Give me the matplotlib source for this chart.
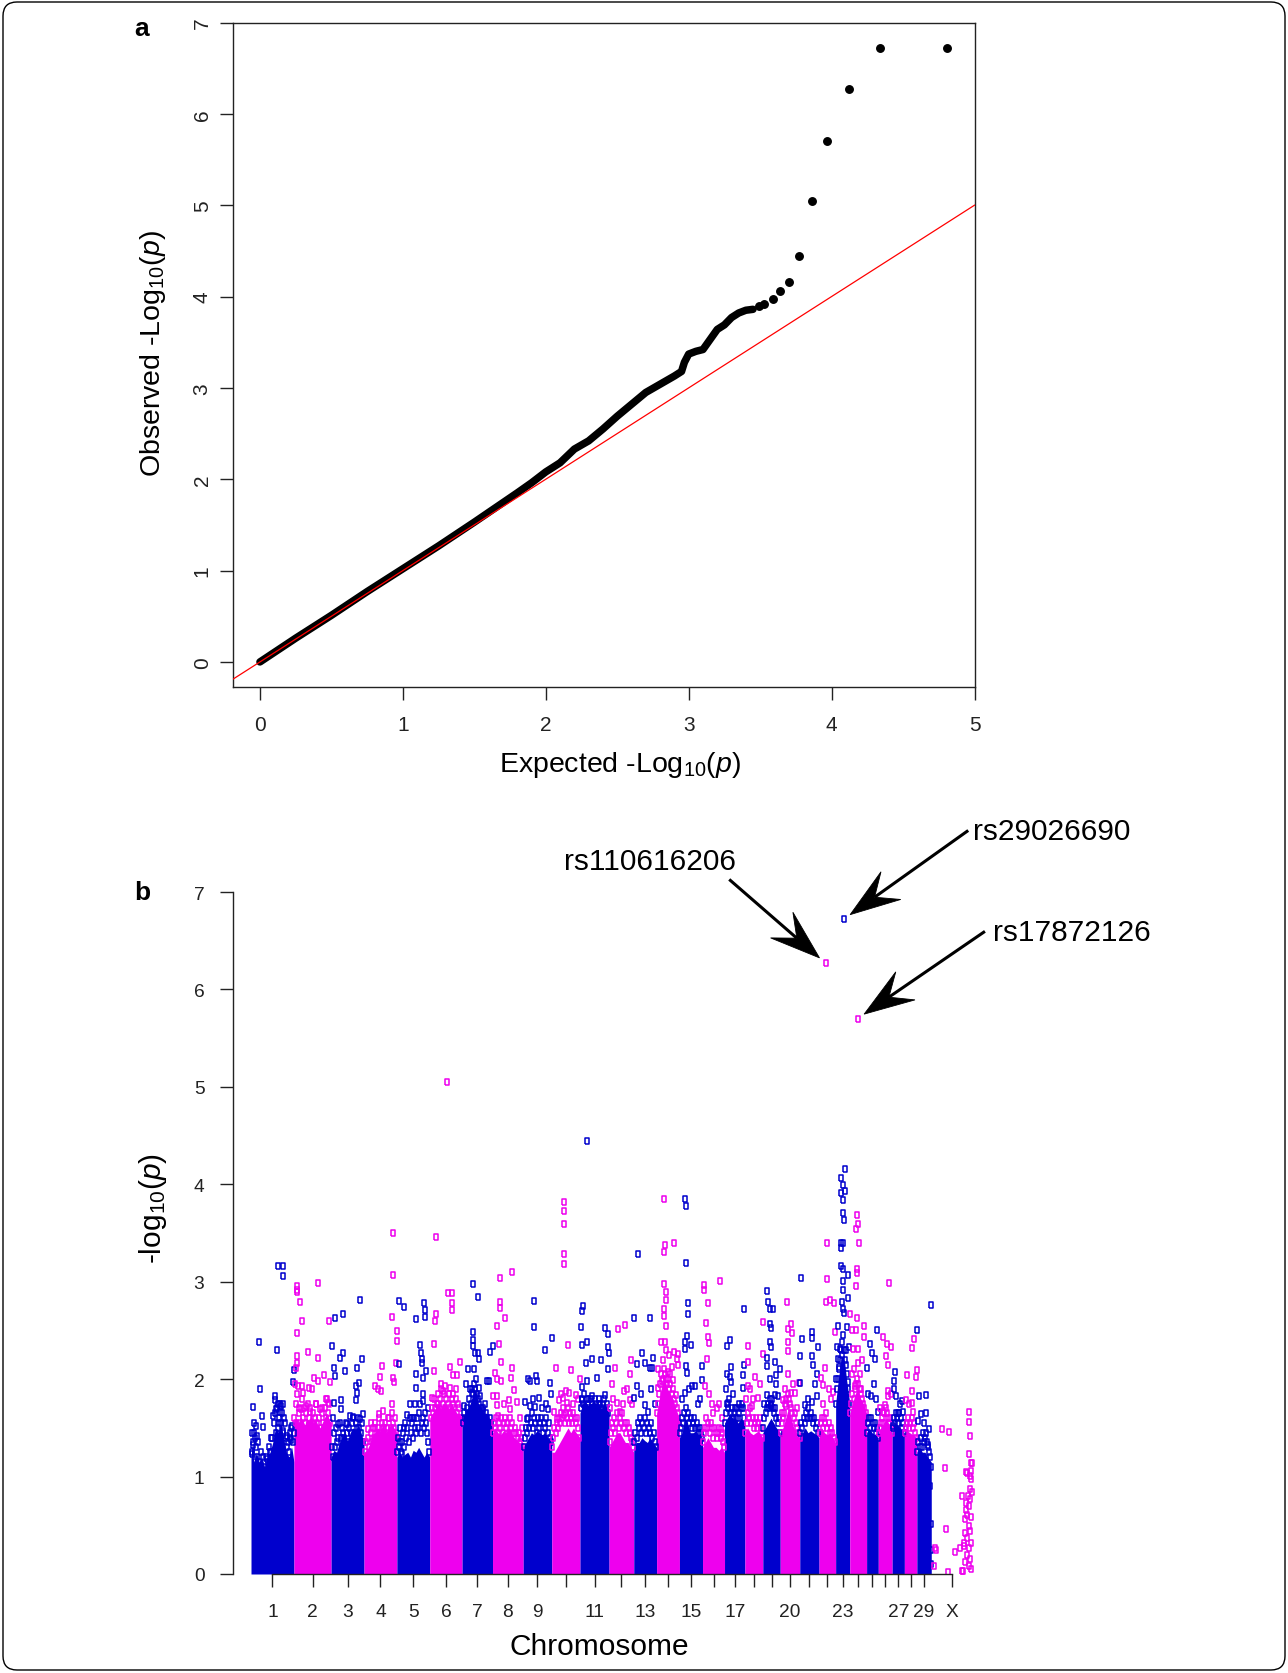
import numpy as np
import matplotlib
matplotlib.use("Agg")
import matplotlib.pyplot as plt
from matplotlib.patches import Polygon, FancyBboxPatch
from matplotlib.lines import Line2D
from matplotlib.transforms import IdentityTransform

plt.rcParams.update({
    "font.family": "Liberation Sans",
    "mathtext.fontset": "custom",
    "mathtext.rm": "Liberation Sans",
    "mathtext.it": "Liberation Sans:italic",
    "axes.linewidth": 1.0,
    "axes.edgecolor": "#222222",
    "xtick.major.width": 1.0,
    "ytick.major.width": 1.0,
    "xtick.color": "#222222",
    "ytick.color": "#222222",
})

W, H = 1288, 1674
BLUE = "#0000CD"
PINK = "#EE00EE"

# ---------------- QQ plot ----------------
qq_expected = [0.00, 0.25, 0.50, 0.75, 1.00, 1.25, 1.50, 1.80, 1.90, 2.00, 2.10, 2.20,
               2.30, 2.40, 2.50, 2.60, 2.70, 2.80, 2.90, 2.95, 2.97, 3.00, 3.05, 3.10,
               3.15, 3.20, 3.25, 3.30, 3.35, 3.40, 3.45]
qq_observed = [0.00, 0.26, 0.51, 0.77, 1.02, 1.27, 1.53, 1.85, 1.96, 2.08, 2.18, 2.33,
               2.42, 2.55, 2.69, 2.82, 2.95, 3.04, 3.13, 3.18, 3.28, 3.37, 3.40, 3.42,
               3.53, 3.64, 3.69, 3.77, 3.82, 3.85, 3.86]
qq_tail_expected = [3.49, 3.53, 3.59, 3.64, 3.70, 3.77, 3.86, 3.97, 4.12, 4.34, 4.81]
qq_tail_observed = [3.90, 3.92, 3.97, 4.06, 4.16, 4.44, 5.05, 5.70, 6.27, 6.72, 6.72]

# ---------------- Manhattan plot ----------------
chrom_labels = [str(i) for i in range(1, 30)] + ["X"]
chrom_len_mb = [158, 137, 121, 121, 121, 119, 112, 113, 105, 104, 107, 91, 84, 84, 85,
                81, 75, 66, 64, 72, 71, 61, 52, 62, 43, 51, 45, 46, 53, 150]
tick_text = ["1", "2", "3", "4", "5", "6", "7", "8", "9", "", "11", "", "13", "", "15",
             "", "17", "", "", "20", "", "", "23", "", "", "", "27", "", "29", "X"]

# top of the solid mass of overlapping SNPs, per chromosome (Mb, -log10 p)
band_mb = [
    [0, 5, 10, 20, 30, 40, 50, 60, 70, 80, 90, 100, 110, 120, 130, 140, 150, 158],
    [0, 8, 16, 24, 32, 40, 48, 56, 64, 72, 80, 88, 96, 104, 112, 120, 128, 137],
    [0, 10, 20, 30, 40, 50, 60, 70, 80, 90, 100, 110, 121],
    [0, 10, 20, 30, 40, 50, 60, 70, 80, 90, 100, 110, 121],
    [0, 10, 20, 30, 40, 50, 60, 70, 80, 90, 100, 110, 121],
    [0, 10, 20, 30, 40, 50, 60, 70, 80, 90, 100, 110, 119],
    [0, 10, 20, 30, 40, 50, 60, 70, 80, 90, 100, 112],
    [0, 10, 20, 30, 40, 50, 60, 70, 80, 90, 100, 113],
    [0, 10, 20, 30, 40, 50, 60, 70, 80, 90, 105],
    [0, 10, 20, 30, 40, 50, 60, 70, 80, 90, 104],
    [0, 10, 20, 30, 40, 50, 60, 70, 80, 90, 100, 107],
    [0, 10, 20, 30, 40, 50, 60, 70, 80, 91],
    [0, 10, 20, 30, 40, 50, 60, 70, 84],
    [0, 10, 20, 30, 40, 50, 60, 70, 84],
    [0, 10, 20, 30, 40, 50, 60, 70, 85],
    [0, 10, 20, 30, 40, 50, 60, 70, 81],
    [0, 10, 20, 30, 40, 50, 60, 75],
    [0, 10, 20, 30, 40, 50, 66],
    [0, 10, 20, 30, 40, 50, 64],
    [0, 10, 20, 30, 40, 50, 60, 72],
    [0, 10, 20, 30, 40, 50, 60, 71],
    [0, 10, 20, 30, 40, 50, 61],
    [0, 10, 20, 30, 40, 52],
    [0, 10, 20, 30, 40, 50, 62],
    [0, 10, 20, 30, 43],
    [0, 10, 20, 30, 40, 51],
    [0, 10, 20, 30, 45],
    [0, 10, 20, 30, 46],
    [0, 10, 20, 30, 40, 53],
    [],
]
band_logp = [
    [1.2, 1.35, 1.15, 1.25, 1.15, 1.2, 1.1, 1.2, 1.25, 1.35, 1.5, 1.45, 1.55, 1.4, 1.25, 1.2, 1.3, 1.15],
    [1.57, 1.6, 1.55, 1.62, 1.58, 1.53, 1.6, 1.57, 1.63, 1.55, 1.59, 1.53, 1.5, 1.55, 1.6, 1.65, 1.6, 1.55],
    [1.2, 1.27, 1.25, 1.35, 1.4, 1.45, 1.37, 1.45, 1.5, 1.47, 1.53, 1.45, 1.35],
    [1.25, 1.27, 1.33, 1.43, 1.45, 1.5, 1.47, 1.53, 1.45, 1.5, 1.55, 1.5, 1.45],
    [1.2, 1.25, 1.2, 1.23, 1.25, 1.2, 1.27, 1.25, 1.3, 1.25, 1.2, 1.25, 1.2],
    [1.6, 1.65, 1.7, 1.75, 1.7, 1.75, 1.73, 1.7, 1.75, 1.7, 1.65, 1.65, 1.6],
    [1.6, 1.65, 1.7, 1.75, 1.85, 1.9, 1.75, 1.7, 1.65, 1.65, 1.6, 1.55],
    [1.45, 1.5, 1.45, 1.43, 1.47, 1.45, 1.5, 1.45, 1.4, 1.37, 1.35, 1.3],
    [1.3, 1.35, 1.4, 1.45, 1.43, 1.47, 1.45, 1.43, 1.45, 1.4, 1.35],
    [1.25, 1.25, 1.3, 1.35, 1.4, 1.45, 1.5, 1.45, 1.5, 1.45, 1.4],
    [1.65, 1.75, 1.77, 1.73, 1.75, 1.77, 1.75, 1.73, 1.7, 1.75, 1.7, 1.65],
    [1.3, 1.35, 1.4, 1.45, 1.45, 1.4, 1.35, 1.35, 1.3, 1.25],
    [1.3, 1.35, 1.35, 1.4, 1.37, 1.35, 1.4, 1.35, 1.3],
    [1.65, 1.8, 1.95, 2.0, 1.9, 1.85, 1.8, 1.7, 1.6],
    [1.4, 1.45, 1.6, 1.55, 1.45, 1.45, 1.47, 1.43, 1.4],
    [1.3, 1.35, 1.4, 1.35, 1.3, 1.3, 1.27, 1.3, 1.25],
    [1.55, 1.6, 1.65, 1.6, 1.6, 1.55, 1.6, 1.55],
    [1.45, 1.5, 1.45, 1.43, 1.45, 1.47, 1.4],
    [1.45, 1.5, 1.55, 1.6, 1.55, 1.5, 1.45],
    [1.45, 1.5, 1.6, 1.7, 1.6, 1.5, 1.45, 1.4],
    [1.45, 1.45, 1.5, 1.45, 1.47, 1.45, 1.43, 1.4],
    [1.45, 1.5, 1.45, 1.43, 1.45, 1.4, 1.35],
    [1.75, 2.0, 2.2, 2.25, 2.0, 1.75],
    [1.65, 1.75, 1.85, 1.9, 1.8, 1.75, 1.65],
    [1.45, 1.5, 1.45, 1.43, 1.4],
    [1.45, 1.5, 1.55, 1.6, 1.53, 1.45],
    [1.5, 1.55, 1.53, 1.5, 1.45],
    [1.45, 1.47, 1.45, 1.43, 1.4],
    [1.25, 1.3, 1.25, 1.25, 1.2, 1.15],
    [],
]

# SNPs packed just above the solid mass (Mb, -log10 p)
fringe_mb = [
    [2, 4, 8, 11, 14, 17, 21, 26, 31, 37, 43, 48, 54, 61, 67, 73, 78, 83, 87, 91,
     96, 99, 103, 108, 111, 114, 118, 122, 127, 131, 136, 140, 145, 149, 153, 157],
    [2, 6, 9, 13, 17, 20, 24, 29, 33, 37, 42, 46, 50, 57, 61, 66, 71, 76, 81, 86,
     92, 98, 103, 108, 113, 117, 121, 125, 130, 134],
    [2, 6, 10, 14, 18, 23, 27, 31, 35, 40, 44, 49, 53, 58, 63, 67, 72, 77, 81, 86,
     90, 95, 99, 104, 109, 113, 117],
    [3, 7, 11, 15, 19, 24, 28, 33, 37, 42, 47, 51, 56, 61, 66, 70, 75, 79, 84, 89,
     93, 98, 102, 107, 111, 116, 119],
    [2, 5, 9, 13, 16, 20, 24, 28, 31, 35, 39, 43, 47, 51, 55, 59, 63, 67, 71, 75,
     79, 83, 87, 91, 95, 99, 103, 107, 111, 115, 119],
    [3, 7, 12, 16, 20, 25, 29, 34, 38, 43, 47, 52, 57, 61, 66, 71, 76, 81, 86, 91,
     96, 101, 106, 111, 116],
    [3, 8, 12, 17, 22, 27, 32, 36, 41, 45, 49, 54, 58, 63, 68, 73, 78, 83, 88, 93,
     98, 103, 108],
    [2, 6, 10, 14, 19, 23, 28, 32, 37, 41, 46, 50, 55, 59, 64, 68, 73, 78, 82, 87,
     92, 97, 101, 106, 110],
    [2, 6, 10, 14, 18, 22, 27, 31, 35, 40, 44, 49, 54, 58, 63, 67, 72, 76, 81, 85,
     90, 94, 98, 102],
    [2, 6, 10, 14, 18, 22, 26, 30, 34, 38, 42, 47, 51, 55, 59, 63, 67, 72, 76, 80,
     85, 89, 93, 97, 101],
    [2, 6, 10, 15, 19, 24, 29, 34, 39, 44, 49, 54, 59, 64, 69, 74, 79, 84, 89, 94,
     99, 104],
    [2, 6, 10, 14, 18, 23, 27, 31, 36, 40, 45, 49, 54, 58, 63, 67, 72, 76, 81, 85, 89],
    [2, 6, 10, 14, 19, 23, 28, 32, 37, 41, 46, 50, 55, 59, 64, 68, 73, 77, 82],
    [2, 6, 10, 14, 18, 22, 26, 30, 34, 38, 42, 47, 51, 56, 60, 65, 69, 74, 78, 82],
    [2, 6, 10, 14, 18, 23, 27, 32, 36, 41, 45, 50, 54, 59, 63, 68, 72, 77, 81, 84],
    [2, 6, 10, 14, 18, 22, 26, 31, 35, 40, 44, 49, 53, 58, 62, 67, 71, 76, 80],
    [2, 6, 10, 14, 18, 23, 27, 32, 36, 41, 45, 50, 54, 59, 63, 68, 72],
    [2, 6, 10, 14, 19, 23, 28, 32, 37, 41, 46, 50, 55, 59, 64],
    [2, 6, 10, 14, 18, 22, 26, 30, 34, 38, 42, 46, 50, 54, 58, 62],
    [2, 6, 10, 14, 18, 22, 27, 31, 35, 40, 44, 49, 53, 58, 62, 67, 71],
    [2, 6, 10, 14, 18, 23, 27, 32, 36, 41, 45, 50, 54, 59, 63, 68],
    [2, 6, 10, 14, 18, 22, 27, 31, 36, 40, 45, 49, 54, 58],
    [2, 5, 9, 13, 17, 21, 25, 29, 33, 37, 41, 45, 49],
    [2, 6, 10, 14, 18, 22, 27, 31, 36, 40, 45, 49, 54, 58, 61],
    [2, 6, 10, 14, 18, 22, 27, 31, 35, 39, 42],
    [2, 6, 10, 14, 18, 22, 27, 31, 35, 39, 43, 47, 50],
    [2, 6, 10, 14, 18, 22, 27, 31, 35, 39, 43],
    [2, 6, 10, 14, 18, 22, 27, 31, 35, 39, 43],
    [2, 6, 10, 14, 18, 22, 26, 30, 34, 38, 42, 46, 50, 52],
    [],
]
fringe_logp = [
    [1.25, 1.45, 1.35, 1.55, 1.4, 1.3, 1.2, 1.35, 1.15, 1.25, 1.2, 1.1, 1.2, 1.15, 1.3, 1.25,
     1.4, 1.55, 1.65, 1.45, 1.7, 1.5, 1.6, 1.75, 1.55, 1.65, 1.45, 1.6, 1.4, 1.3, 1.35, 1.25,
     1.4, 1.5, 1.35, 1.45],
    [1.6, 1.75, 1.55, 1.85, 1.65, 1.7, 1.55, 1.8, 1.6, 1.7, 1.55, 1.65, 1.75, 1.6, 1.7, 1.55,
     1.65, 1.6, 1.75, 1.55, 1.6, 1.5, 1.65, 1.55, 1.7, 1.6, 1.8, 1.65, 1.75, 1.55],
    [1.3, 1.2, 1.45, 1.3, 1.5, 1.35, 1.4, 1.55, 1.4, 1.5, 1.45, 1.4, 1.55, 1.45, 1.35, 1.5,
     1.45, 1.55, 1.6, 1.45, 1.55, 1.5, 1.6, 1.5, 1.45, 1.55, 1.35],
    [1.25, 1.35, 1.2, 1.4, 1.3, 1.45, 1.35, 1.5, 1.4, 1.55, 1.45, 1.5, 1.6, 1.45, 1.55, 1.5,
     1.45, 1.55, 1.5, 1.45, 1.6, 1.5, 1.65, 1.55, 1.5, 1.45, 1.4],
    [1.25, 1.4, 1.3, 1.5, 1.25, 1.35, 1.45, 1.3, 1.55, 1.4, 1.5, 1.35, 1.6, 1.45, 1.55, 1.4,
     1.6, 1.5, 1.45, 1.6, 1.5, 1.65, 1.45, 1.55, 1.6, 1.5, 1.65, 1.55, 1.45, 1.35, 1.25],
    [1.6, 1.7, 1.65, 1.8, 1.7, 1.75, 1.85, 1.7, 1.8, 1.9, 1.75, 1.85, 1.7, 1.8, 1.75, 1.85,
     1.7, 1.8, 1.75, 1.7, 1.8, 1.65, 1.7, 1.6, 1.55],
    [1.55, 1.65, 1.6, 1.7, 1.65, 1.8, 1.75, 1.9, 1.85, 1.95, 1.9, 1.85, 1.8, 1.75, 1.7, 1.65,
     1.7, 1.6, 1.65, 1.6, 1.55, 1.6, 1.5],
    [1.45, 1.55, 1.5, 1.6, 1.45, 1.55, 1.5, 1.6, 1.45, 1.55, 1.6, 1.5, 1.55, 1.45, 1.6, 1.5,
     1.55, 1.45, 1.5, 1.45, 1.4, 1.45, 1.35, 1.4, 1.3],
    [1.3, 1.4, 1.5, 1.45, 1.6, 1.5, 1.55, 1.65, 1.5, 1.6, 1.55, 1.45, 1.6, 1.5, 1.55, 1.6,
     1.45, 1.55, 1.5, 1.6, 1.45, 1.55, 1.4, 1.35],
    [1.3, 1.4, 1.5, 1.45, 1.55, 1.5, 1.6, 1.55, 1.65, 1.6, 1.7, 1.55, 1.65, 1.6, 1.7, 1.55,
     1.65, 1.6, 1.55, 1.65, 1.6, 1.55, 1.6, 1.5, 1.4],
    [1.7, 1.8, 1.75, 1.85, 1.7, 1.8, 1.75, 1.7, 1.8, 1.75, 1.7, 1.8, 1.75, 1.7, 1.8, 1.75,
     1.7, 1.75, 1.8, 1.7, 1.75, 1.65],
    [1.35, 1.45, 1.55, 1.5, 1.6, 1.45, 1.55, 1.65, 1.5, 1.6, 1.55, 1.65, 1.5, 1.55, 1.45,
     1.55, 1.5, 1.45, 1.4, 1.35, 1.3],
    [1.35, 1.45, 1.4, 1.55, 1.5, 1.6, 1.45, 1.55, 1.5, 1.6, 1.45, 1.55, 1.5, 1.45, 1.55,
     1.4, 1.45, 1.35, 1.3],
    [1.65, 1.75, 1.85, 1.95, 2.05, 2.0, 2.1, 2.05, 2.0, 1.95, 2.0, 1.9, 1.95, 1.85, 1.9,
     1.8, 1.75, 1.7, 1.65, 1.55],
    [1.45, 1.5, 1.6, 1.55, 1.65, 1.7, 1.6, 1.65, 1.55, 1.6, 1.5, 1.55, 1.6, 1.5, 1.55, 1.5,
     1.45, 1.5, 1.45, 1.4],
    [1.35, 1.45, 1.5, 1.6, 1.5, 1.55, 1.45, 1.55, 1.5, 1.4, 1.5, 1.45, 1.4, 1.45, 1.5, 1.4,
     1.45, 1.35, 1.3],
    [1.55, 1.65, 1.75, 1.7, 1.8, 1.65, 1.7, 1.6, 1.65, 1.6, 1.7, 1.6, 1.65, 1.7, 1.75, 1.7,
     1.6],
    [1.45, 1.55, 1.65, 1.6, 1.7, 1.55, 1.6, 1.5, 1.55, 1.6, 1.5, 1.55, 1.6, 1.5, 1.4],
    [1.5, 1.6, 1.65, 1.7, 1.75, 1.7, 1.8, 1.75, 1.8, 1.7, 1.65, 1.7, 1.6, 1.55, 1.6, 1.45],
    [1.45, 1.55, 1.6, 1.65, 1.75, 1.8, 1.85, 1.8, 1.75, 1.7, 1.65, 1.6, 1.65, 1.55, 1.5,
     1.45, 1.4],
    [1.45, 1.55, 1.5, 1.6, 1.55, 1.65, 1.6, 1.7, 1.6, 1.65, 1.6, 1.55, 1.6, 1.5, 1.55, 1.45],
    [1.45, 1.55, 1.6, 1.5, 1.6, 1.55, 1.65, 1.5, 1.55, 1.45, 1.5, 1.45, 1.4, 1.35],
    [1.75, 1.9, 2.0, 2.1, 2.2, 2.3, 2.25, 2.3, 2.2, 2.15, 2.05, 1.9, 1.75],
    [1.65, 1.75, 1.85, 1.8, 1.9, 1.95, 2.0, 1.95, 1.9, 1.85, 1.8, 1.75, 1.7, 1.65, 1.6],
    [1.45, 1.55, 1.6, 1.5, 1.6, 1.55, 1.5, 1.55, 1.45, 1.5, 1.4],
    [1.45, 1.5, 1.55, 1.6, 1.55, 1.65, 1.7, 1.65, 1.6, 1.55, 1.6, 1.5, 1.45],
    [1.5, 1.6, 1.55, 1.65, 1.6, 1.55, 1.65, 1.6, 1.5, 1.55, 1.45],
    [1.45, 1.5, 1.55, 1.6, 1.5, 1.55, 1.6, 1.5, 1.55, 1.45, 1.4],
    [1.25, 1.35, 1.3, 1.4, 1.3, 1.45, 1.35, 1.4, 1.45, 1.35, 1.3, 1.25, 1.2, 1.1],
    [],
]

# individual SNPs standing out from the band (Mb within chromosome, -log10 p)
hit_mb = [
    [5, 6, 6, 12, 18, 22, 29.5, 33, 42, 45, 60, 70, 75, 82, 88, 88, 92, 94, 98, 100,
     104, 107, 112, 116.5, 116.5, 116.5, 119, 125, 132, 141, 143.5, 146, 150, 155.8, 156.5],
    [4, 7.6, 10, 10, 12.5, 12.5, 12.5, 12.5, 15, 22, 25, 28, 31, 35, 45, 53, 54, 59, 65, 74,
     80, 88.6, 90, 90, 96, 105, 112, 118, 127, 128, 133],
    [2, 5, 12, 12, 13, 14, 26.5, 32.5, 35, 36, 45, 45, 51, 57, 70, 82, 91.5, 91.5, 94, 94,
     101, 106, 106, 112, 118],
    [13.5, 25, 40, 40, 52, 56, 59, 62, 67, 71, 73.5, 88, 103, 104, 105, 105, 105, 110, 115,
     119, 120, 120],
    [9, 9, 11, 17.5, 25, 27, 36, 48, 57, 67, 69, 69, 70, 85, 86, 90, 92, 92, 95, 95,
     97, 98.5, 105, 105, 107, 115],
    [7, 15.5, 15.5, 18, 21.7, 23, 31.5, 40, 50, 56, 65, 68, 74, 74, 80.5, 80.5, 82, 84, 87,
     95, 101, 105, 111, 115],
    [7, 14, 23, 30, 38, 39, 40, 41, 41, 44, 47, 51, 60, 60, 61, 62, 66, 78, 85, 90,
     100, 103, 106, 112],
    [3, 10, 15, 15, 15, 18, 21, 25, 27, 27, 27, 30, 30, 42, 45, 59, 64, 67, 70, 72,
     79, 91, 100, 108],
    [6, 12.6, 16, 25, 25, 35, 41, 41, 43, 47, 52, 58, 68, 79, 85, 92, 98.5, 104, 104.6],
    [8, 14, 18, 28, 35, 42.5, 45, 46, 46, 46, 46, 46, 52, 57, 60, 65, 71, 77, 89, 95, 103],
    [3.5, 6, 6, 6, 8.5, 10, 22, 24, 24, 24, 33, 44, 45, 61, 70, 76, 92, 92, 104, 104,
     104, 106],
    [5, 10, 15, 21, 28, 34, 40, 52, 56, 58.5, 65, 77, 77, 79, 86],
    [2, 2, 12, 12, 15, 25, 29, 41, 41, 53, 59.5, 61, 65, 68, 72, 78],
    [4, 6, 16, 18.5, 22, 26, 27, 27, 28, 28, 31, 31, 33, 33, 33, 35, 43, 45, 50, 55,
     61, 64, 65, 70, 74, 80, 80],
    [10, 20, 20, 20, 20, 24, 25, 25, 26.5, 29, 30, 30, 35, 42, 47, 57, 67, 75, 82, 84],
    [6.5, 6.5, 9, 11, 16, 19, 21, 24, 25, 33.5, 40, 52, 60, 65, 68, 70],
    [5, 8, 8, 14, 20, 20, 24, 24, 30, 40, 55, 67, 69, 70, 73],
    [5, 10, 10, 12, 18.5, 25, 30, 37, 49, 55, 65, 65],
    [5, 14, 15, 15, 16, 20, 25, 26, 26, 27, 29, 30, 30, 36, 45, 45, 48, 48, 57, 62],
    [5, 11, 17, 20, 26, 27, 30, 30, 30, 38, 39, 42, 48, 54, 60, 70],
    [1, 1, 4, 10, 19, 30, 43.5, 43.5, 43.5, 46, 47, 55, 62, 62, 68],
    [6, 13, 13, 23, 24, 28, 28, 35, 40, 45, 52, 56, 58],
    [1, 3.5, 10, 10, 14, 16, 18, 18, 18, 19.5, 19.5, 22, 22, 25.6, 25.6, 25.6, 25.6, 28, 28, 28,
     28, 28, 32, 32, 34, 34, 38, 40, 44, 46.5, 46.5, 50],
    [0.6, 7, 9, 13, 15, 19, 21.5, 23, 23, 25, 25, 25, 27.6, 29, 31, 31, 35, 37, 40, 45,
     52, 52],
    [2.4, 6, 12, 18, 21, 26, 31, 35, 38, 43],
    [8, 16, 18, 24, 27, 33, 34, 34, 37, 39, 45, 45],
    [2, 7, 8, 10, 16, 20, 28, 37, 41],
    [6, 8, 18, 27, 29, 29, 33, 36, 41, 45],
    [1.4, 5, 9, 17, 25, 32, 33, 42, 46, 50, 50.5, 51, 51, 52],
    [9, 13, 19, 40, 52, 56, 62, 67, 89, 107.5, 113.6, 113.6, 116, 119.7, 122, 123.4, 126, 126,
     128.3, 128.3, 129.5, 132, 132, 132, 132, 135.7, 138, 138, 138, 138, 138, 138, 140.6, 142,
     144.3, 144.3, 144.3, 144.3, 144.3, 146.7, 146.7, 146.7, 146.7, 146.7, 148, 150, 150],
]
hit_logp = [
    [1.23, 1.32, 1.71, 1.45, 1.52, 1.42, 2.38, 1.90, 1.62, 1.51, 1.18, 1.25, 1.40, 1.62, 1.83,
     1.79, 1.69, 2.30, 3.16, 1.75, 1.55, 1.66, 1.72, 3.16, 3.06, 1.75, 1.47, 1.55, 1.42, 1.16,
     1.45, 1.38, 1.52, 1.97, 2.09],
    [1.95, 2.11, 2.47, 2.17, 2.96, 2.92, 2.89, 2.24, 1.93, 2.79, 1.69, 1.93, 2.60, 1.86, 1.72,
     2.28, 1.91, 1.66, 1.90, 2.01, 1.75, 1.98, 2.99, 2.22, 1.69, 1.70, 2.04, 1.80, 1.76, 2.60,
     1.97],
    [2.34, 1.60, 2.11, 1.76, 2.03, 2.63, 1.54, 2.22, 1.79, 1.69, 2.67, 2.27, 2.08, 1.54, 1.62,
     1.61, 1.93, 1.79, 2.11, 1.86, 1.96, 2.81, 1.59, 2.21, 1.64],
    [1.49, 1.55, 1.93, 1.50, 1.90, 1.64, 2.02, 1.88, 2.14, 1.67, 1.50, 1.60, 2.64, 1.75, 3.50,
     3.07, 2.01, 1.97, 1.60, 2.17, 2.49, 2.39],
    [2.80, 2.16, 1.35, 1.23, 1.50, 2.74, 1.63, 1.74, 1.60, 1.75, 2.05, 1.91, 2.62, 1.74, 2.35,
     2.27, 2.21, 2.17, 2.01, 1.85, 1.78, 2.78, 2.71, 2.64, 2.08, 1.70],
    [1.81, 2.36, 2.08, 2.60, 3.46, 2.67, 1.74, 1.95, 1.88, 1.93, 5.05, 2.88, 2.12, 1.91, 2.78,
     2.71, 2.88, 2.04, 1.85, 1.90, 2.04, 1.75, 2.18, 1.60],
    [1.72, 1.95, 2.10, 1.90, 1.86, 2.40, 2.98, 2.48, 2.34, 2.10, 2.27, 2.00, 2.84, 2.27, 2.21,
     1.91, 1.83, 1.67, 1.75, 1.98, 1.98, 2.28, 1.55, 2.34],
    [1.83, 2.06, 2.55, 2.00, 1.83, 1.73, 1.62, 2.36, 3.04, 2.79, 2.73, 2.18, 1.98, 1.74, 2.63,
     1.79, 1.69, 2.01, 3.10, 2.11, 1.89, 1.77, 1.60, 1.50],
    [1.77, 1.59, 2.00, 1.98, 1.72, 1.80, 2.80, 2.54, 1.71, 2.03, 1.98, 1.81, 1.70, 2.30, 1.75,
     1.69, 1.96, 1.85, 2.42],
    [1.66, 2.11, 1.59, 1.79, 1.85, 1.81, 1.63, 3.82, 3.73, 3.59, 3.28, 3.18, 1.88, 1.76, 2.35,
     1.86, 2.09, 1.74, 1.84, 1.80, 2.00],
    [2.54, 2.70, 1.92, 1.79, 2.35, 2.75, 2.17, 4.44, 2.38, 1.98, 1.80, 2.21, 1.83, 2.01, 1.75,
     2.20, 2.52, 1.84, 2.46, 2.33, 2.10, 2.27],
    [1.70, 1.95, 1.80, 2.11, 1.76, 2.51, 1.66, 1.75, 1.88, 2.56, 1.90, 2.05, 1.79, 2.20, 1.75],
    [2.63, 1.81, 2.16, 1.93, 3.28, 1.85, 2.27, 2.17, 1.73, 1.66, 2.11, 2.63, 1.90, 2.11, 2.22,
     1.74],
    [1.91, 2.10, 2.38, 1.98, 2.20, 3.85, 3.31, 2.98, 2.72, 2.65, 3.38, 2.38, 2.89, 2.81, 2.55,
     2.30, 2.07, 2.25, 2.05, 2.12, 1.99, 3.40, 2.28, 1.84, 2.21, 2.26, 2.15],
    [1.80, 3.85, 2.38, 2.31, 1.86, 2.13, 3.78, 3.19, 2.06, 2.44, 2.78, 2.67, 1.90, 2.35, 1.93,
     1.93, 1.74, 1.80, 1.99, 2.14],
    [2.97, 2.91, 1.93, 2.58, 2.21, 2.78, 2.43, 2.37, 1.85, 1.74, 1.65, 1.70, 1.75, 3.01, 1.49,
     1.60],
    [1.90, 2.34, 2.05, 1.76, 2.40, 2.02, 2.12, 1.97, 1.85, 1.70, 1.75, 2.04, 1.91, 2.72, 2.15],
    [1.80, 2.18, 1.93, 2.34, 1.90, 1.72, 1.80, 2.02, 1.81, 1.95, 2.59, 2.26],
    [1.75, 2.22, 2.90, 2.13, 1.84, 2.79, 2.00, 2.72, 2.57, 2.38, 2.52, 2.33, 1.72, 2.72, 2.18,
     1.84, 2.04, 1.95, 1.83, 2.10],
    [1.65, 1.79, 1.90, 1.72, 2.79, 2.05, 2.51, 2.38, 2.29, 2.57, 1.86, 2.47, 1.95, 1.86, 1.70,
     1.96],
    [2.24, 1.96, 3.04, 2.41, 1.73, 1.80, 2.42, 2.24, 1.77, 2.48, 2.15, 1.95, 2.05, 1.83, 2.33],
    [2.01, 1.94, 1.75, 2.11, 2.79, 3.40, 3.03, 1.90, 2.81, 1.80, 1.87, 2.78, 2.48],
    [2.00, 2.33, 2.55, 2.21, 2.12, 2.31, 4.06, 3.35, 3.16, 3.91, 3.40, 2.79, 2.38, 3.84, 3.71,
     2.91, 2.45, 3.99, 3.40, 3.13, 3.01, 2.72, 3.63, 2.68, 4.16, 3.93, 2.30, 2.54, 2.83, 3.07,
     1.97, 2.33],
    [2.67, 2.05, 2.50, 2.31, 2.10, 1.93, 2.96, 3.54, 2.50, 3.68, 3.13, 3.09, 2.63, 2.17, 3.59,
     2.31, 3.40, 2.05, 1.90, 2.20, 2.55, 2.43],
    [2.11, 1.85, 2.36, 1.83, 2.27, 1.95, 2.21, 1.80, 2.50, 1.66],
    [1.70, 1.66, 2.43, 1.73, 2.24, 2.36, 2.15, 1.88, 1.83, 2.99, 2.33, 1.85],
    [1.52, 1.90, 1.98, 2.07, 1.83, 1.65, 1.75, 1.78, 1.66],
    [1.79, 2.04, 1.75, 1.88, 2.32, 1.76, 1.66, 2.41, 2.02, 2.09],
    [2.50, 1.57, 1.83, 1.64, 1.55, 1.84, 1.65, 1.32, 1.49, 0.90, 2.76, 0.51, 0.10, 0.25],
    [0.08, 0.27, 0.25, 1.49, 1.09, 0.46, 0.02, 1.46, 0.23, 0.27, 0.80, 0.03, 0.03, 0.32, 0.29,
     0.42, 0.56, 0.12, 0.66, 0.73, 1.05, 1.04, 0.61, 0.37, 0.20, 0.80, 1.66, 1.56, 0.70, 0.49,
     0.27, 0.08, 1.23, 1.01, 1.42, 0.87, 0.77, 0.44, 0.15, 1.14, 0.97, 0.58, 0.32, 0.05, 1.06,
     0.84, 1.14],
]

lead_ids = ["rs110616206", "rs29026690", "rs17872126"]
lead_chrom = ["22", "23", "24"]
lead_mb = [23.8, 29.4, 28.6]
lead_logp = [6.27, 6.72, 5.70]


def px_rect(left, top, right, bottom):
    """Axes rectangle in figure fractions from pixel edges (origin top-left)."""
    return [left / W, 1 - bottom / H, (right - left) / W, (bottom - top) / H]


def fig_text(fig, x, y, s, **kw):
    return fig.text(x / W, 1 - y / H, s, **kw)


def stealth_arrow(fig, ax, xy, tail_off, gap=8, head_len=50, head_half=17, notch=0.6):
    p = ax.transData.transform(xy)
    tail = p + np.asarray(tail_off, float)
    u = (tail - p) / np.hypot(*(tail - p))
    n = np.array([-u[1], u[0]])
    tip = p + u * gap
    back = tip + u * head_len
    mid = tip + u * head_len * notch
    head = [tip, back + n * head_half, mid, back - n * head_half]
    fig.add_artist(Polygon(head, closed=True, transform=IdentityTransform(),
                           fc="black", ec="black", lw=0.6, zorder=5))
    fig.add_artist(Line2D([mid[0], tail[0]], [mid[1], tail[1]],
                          transform=IdentityTransform(), color="black", lw=2.2,
                          solid_capstyle="butt", zorder=5))


fig = plt.figure(figsize=(W / 100, H / 100), dpi=100)

# ---- panel a: QQ plot
ax = fig.add_axes(px_rect(232.8, 23.5, 974.5, 687.5))
ax.axline((0, 0), slope=1, color="#FF0000", lw=0.9, zorder=3)
ax.plot(qq_expected, qq_observed, color="black", lw=5.4, solid_capstyle="round",
        solid_joinstyle="round", zorder=2)
ax.plot(qq_tail_expected, qq_tail_observed, ls="none", marker="o", ms=5.4,
        color="black", zorder=2)
ax.set_xlim(-0.19, 5.0)
ax.set_ylim(-0.269, 6.99)
ax.set_xticks(range(0, 6))
ax.set_yticks(range(0, 8))
ax.tick_params(axis="both", direction="out", length=9.2, labelsize=15)
ax.tick_params(axis="x", pad=11)
ax.tick_params(axis="y", pad=6)
for lab in ax.get_yticklabels():
    lab.set_rotation(90)
    lab.set_va("center")

fig_text(fig, 620, 771.7, r"Expected -Log$_{10}$($\mathit{p}$)", fontsize=20.5,
         ha="center", va="baseline")
fig_text(fig, 153, 353.5, r"Observed -Log$_{10}$($\mathit{p}$)", fontsize=20.5,
         ha="center", va="center", rotation=90)
fig_text(fig, 142, 29, "a", fontsize=19, fontweight="bold", ha="center", va="center")

# ---- panel b: Manhattan plot
bx = fig.add_axes(px_rect(232.8, 893, 1000, 1575))
rect_marker = [(-1, -1.75), (1, -1.75), (1, 1.75), (-1, 1.75), (-1, -1.75)]
mk = dict(ls="none", marker=rect_marker, ms=4.8, mfc="none", mew=1.1, zorder=2)
starts = np.concatenate([[0.0], np.cumsum(chrom_len_mb)[:-1]])
mids = starts + np.asarray(chrom_len_mb) / 2.0
colors = [BLUE if i % 2 == 0 else PINK for i in range(len(chrom_labels))]

for i in range(len(chrom_labels)):
    if band_mb[i]:
        bx.fill_between(starts[i] + np.asarray(band_mb[i]), 0, band_logp[i],
                        color=colors[i], lw=0, zorder=1)
    if fringe_mb[i]:
        bx.plot(starts[i] + np.asarray(fringe_mb[i]), fringe_logp[i], mec=colors[i], **mk)
    bx.plot(starts[i] + np.asarray(hit_mb[i]), hit_logp[i], mec=colors[i], **mk)

lead_x = [starts[chrom_labels.index(c)] + m for c, m in zip(lead_chrom, lead_mb)]
lead_col = [colors[chrom_labels.index(c)] for c in lead_chrom]
for x, y, c in zip(lead_x, lead_logp, lead_col):
    bx.plot([x], [y], mec=c, **mk)

bx.set_xlim(-67, 2757)
bx.set_ylim(0, 7)
for side in ("top", "right"):
    bx.spines[side].set_visible(False)
bx.spines["left"].set_bounds(0, 7)
bx.spines["bottom"].set_bounds(mids[0], mids[-1])
bx.set_xticks(mids)
bx.set_xticklabels(tick_text)
bx.set_yticks(range(0, 8))
bx.tick_params(axis="both", direction="out", length=9.4, labelsize=13.8)
bx.tick_params(axis="x", pad=11.5)
bx.tick_params(axis="y", pad=11)

fig_text(fig, 599, 1655, "Chromosome", fontsize=21.5, ha="center", va="baseline")
fig_text(fig, 153, 1208.5, r"-log$_{10}$($\mathit{p}$)", fontsize=21.5,
         ha="center", va="center", rotation=90)
fig_text(fig, 142, 893, "b", fontsize=19, fontweight="bold", ha="center", va="center")

# labels and arrows for the lead SNPs (offsets in pixels from each SNP)
text_off = [(-175.6, 94.4), (129.3, 80.2), (135.1, 78.3)]
text_ha = ["center", "left", "left"]
tail_off = [(-96.3, 83.7), (124.6, 88.8), (127.4, 87.3)]
for name, x, y, toff, ha, aoff in zip(lead_ids, lead_x, lead_logp, text_off, text_ha, tail_off):
    bx.annotate(name, xy=(x, y), xytext=toff, textcoords="offset pixels",
                fontsize=21.5, ha=ha, va="baseline", annotation_clip=False)
    stealth_arrow(fig, bx, (x, y), aoff)

fig.add_artist(FancyBboxPatch((3, 3), W - 6, H - 6, boxstyle="round,pad=0,rounding_size=14",
                              transform=IdentityTransform(), fill=False, ec="black", lw=1.0))

fig.savefig("out.png", dpi=100)
